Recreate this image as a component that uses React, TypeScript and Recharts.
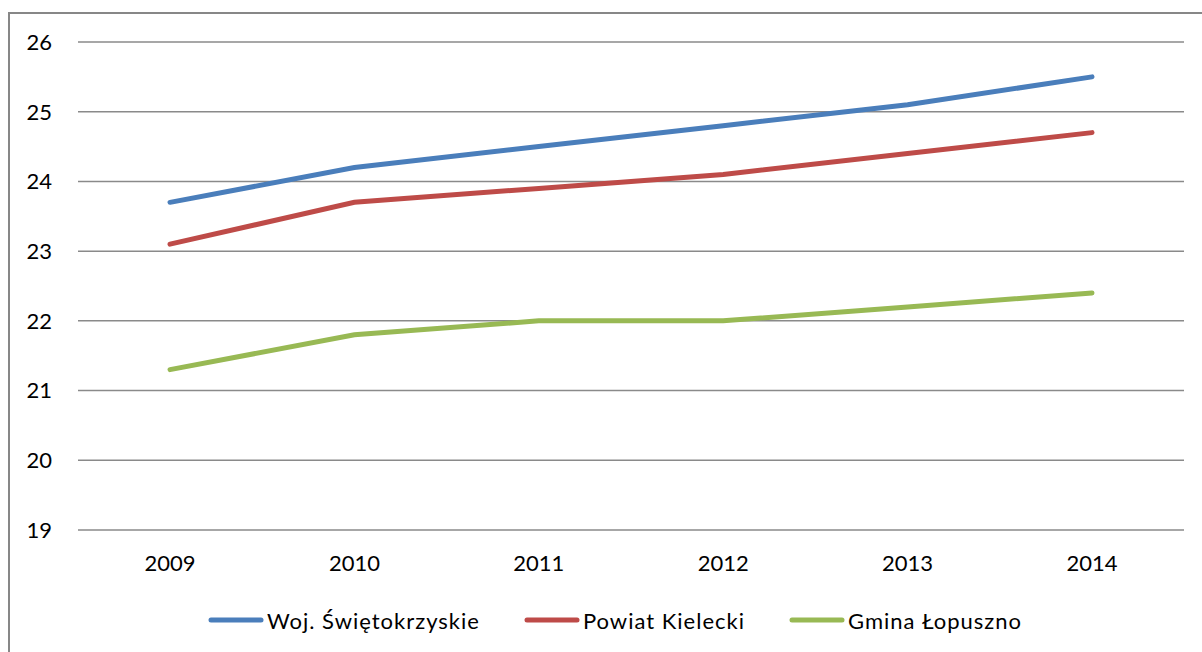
import React from "react";
import { LineChart, Line, XAxis, YAxis, CartesianGrid, Legend } from "recharts";

const years = ["2009", "2010", "2011", "2012", "2013", "2014"];
const wojValues = [23.7, 24.2, 24.5, 24.8, 25.1, 25.5];
const powiatValues = [23.1, 23.7, 23.9, 24.1, 24.4, 24.7];
const gminaValues = [21.3, 21.8, 22.0, 22.0, 22.2, 22.4];
const yTicks = [19, 20, 21, 22, 23, 24, 25, 26];

const series = [
  { key: "woj", name: "Woj. Świętokrzyskie", color: "#4A7EBB" },
  { key: "powiat", name: "Powiat Kielecki", color: "#BE4B48" },
  { key: "gmina", name: "Gmina Łopuszno", color: "#98B954" },
];

const data = years.map((year, i) => ({
  year,
  woj: wojValues[i],
  powiat: powiatValues[i],
  gmina: gminaValues[i],
}));

const FONT = "Lato, 'Open Sans', sans-serif";

// legend drawn by hand so the line markers look like the original
function ChartLegend() {
  return (
    <div
      style={{
        height: 40,
        display: "flex",
        justifyContent: "center",
        alignItems: "center",
        paddingLeft: 36,
        fontFamily: FONT,
        fontSize: 22,
        letterSpacing: 1,
        color: "#000",
      }}
    >
      {series.map((s, i) => (
        <div
          key={s.key}
          style={{ display: "flex", alignItems: "center", marginLeft: i === 0 ? 0 : 44 }}
        >
          <svg width={56} height={10} style={{ marginRight: 3 }}>
            <line x1={3} y1={5} x2={53} y2={5} stroke={s.color} strokeWidth={5} strokeLinecap="round" />
          </svg>
          <span>{s.name}</span>
        </div>
      ))}
    </div>
  );
}

export default function App() {
  return (
    <>
      <style>{`html, body { overflow: hidden; }`}</style>
      <div
        style={{
          position: "absolute",
          left: 8,
          top: 12,
          width: 1220,
          height: 660,
          border: "2px solid #878787",
          background: "#fff",
        }}
      >
        <LineChart
          width={1192}
          height={636}
          data={data}
          margin={{ top: 28, right: 18, bottom: 10, left: 0 }}
        >
          <CartesianGrid vertical={false} stroke="#8a8a8a" strokeWidth={1.5} />
          <XAxis
            dataKey="year"
            axisLine={false}
            tickLine={false}
            tickSize={0}
            tickMargin={25}
            height={70}
            padding={{ left: 92, right: 92 }}
            tick={{ fill: "#000", fontSize: 22, fontFamily: FONT }}
          />
          <YAxis
            domain={[19, 26]}
            ticks={yTicks}
            axisLine={false}
            tickLine={false}
            tickSize={0}
            tickMargin={26}
            width={68}
            tick={{ fill: "#000", fontSize: 22, fontFamily: FONT }}
          />
          <Legend verticalAlign="bottom" content={() => <ChartLegend />} />
          {series.map((s) => (
            <Line
              key={s.key}
              type="linear"
              dataKey={s.key}
              name={s.name}
              stroke={s.color}
              strokeWidth={5}
              strokeLinecap="round"
              dot={false}
              activeDot={false}
              isAnimationActive={false}
            />
          ))}
        </LineChart>
      </div>
    </>
  );
}
